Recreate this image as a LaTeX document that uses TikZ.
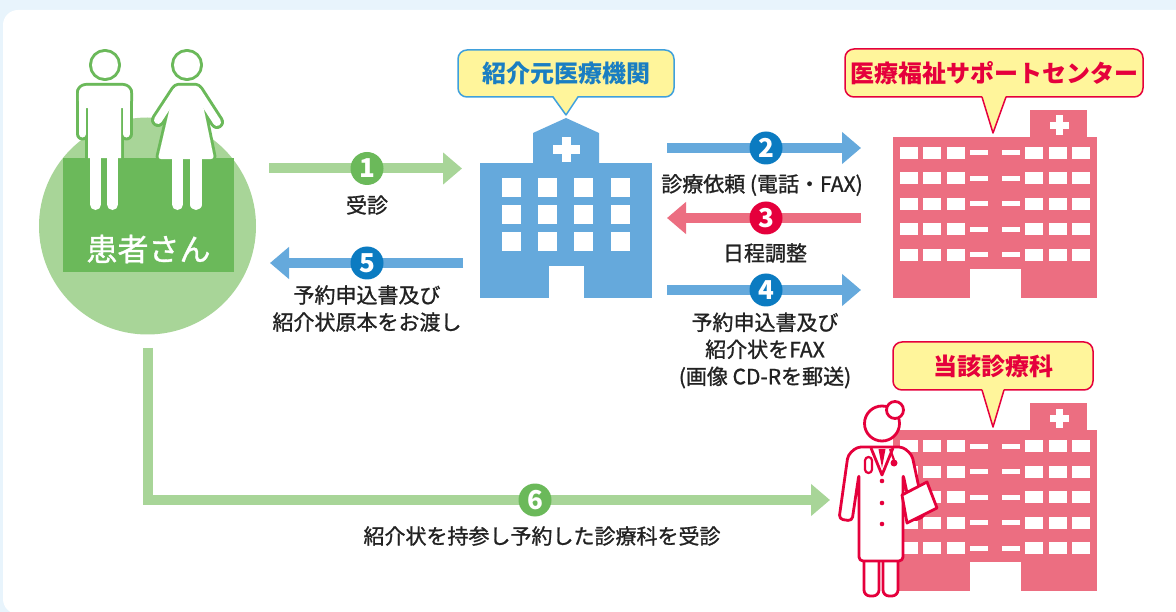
\documentclass[tikz,border=0pt]{standalone}
\usepackage{fontspec}
\setmainfont{Noto Sans CJK JP}
\newfontfamily\labelfont[FakeBold=1.1]{Noto Sans CJK JP}
\usetikzlibrary{arrows.meta}

\definecolor{bgblue}{HTML}{E8F4FC}
\definecolor{ltgreen}{HTML}{A8D598}
\definecolor{dkgreen}{HTML}{6BB95A}
\definecolor{arrblue}{HTML}{65A9DC}
\definecolor{numblue}{HTML}{0B7BC1}
\definecolor{rosepink}{HTML}{EC6E81}
\definecolor{crimson}{HTML}{E5003C}
\definecolor{calloutfill}{HTML}{FFF59B}
\definecolor{calloutblue}{HTML}{3FA0DC}
\definecolor{textblue}{HTML}{1A7EC2}
\definecolor{ink}{HTML}{222222}

% building of the medical centre / department (pink)
\newcommand\careBuilding{%
  \fill[rosepink] (893,137) rectangle (1097,298);
  \fill[rosepink] (1030,110) rectangle (1087,137);
  \fill[white] (1049.5,122) rectangle (1068.5,129);
  \fill[white] (1055.5,115.5) rectangle (1062.5,135);
  \foreach \row in {0,...,4}{%
    \foreach \col in {900,923,947,1025,1049,1072}{%
      \fill[white] (\col,147+25.5*\row) rectangle ++(17.5,12);}
    \foreach \col in {970,1002}{%
      \fill[white] (\col,150.5+25.5*\row) rectangle ++(17.5,5);}
  }
  \fill[white] (970,269) rectangle (1021,298);
}

\begin{document}
\begin{tikzpicture}[x=1pt,y=-1pt,
  arr/.style={line width=10pt,-{Triangle[width=31pt,length=19pt]}},
  num/.style={circle,fill=#1,minimum size=33pt,inner sep=0pt,text=white,
    font=\fontsize{26}{26}\selectfont\bfseries},
  lbl/.style={text=ink,align=center,inner sep=0pt,
    font=\labelfont\fontsize{21}{27}\selectfont},
  callout/.style={draw=#1,line width=1.5pt,fill=calloutfill,
    rounded corners=9pt,inner sep=0pt,font=\fontsize{24}{24}\selectfont\bfseries},
  fig/.style={line cap=round,line join=round},
]
\useasboundingbox (0,0) rectangle (1176,612);
\fill[bgblue] (0,0) rectangle (1176,612);
\fill[white,rounded corners=15pt] (3,10) rectangle (1195,614);

% ---------- patients ----------
\node[circle,fill=ltgreen,minimum size=217pt,inner sep=0pt] (pat) at (147.5,226) {};
\fill[dkgreen] (63,158) rectangle (234,272);
% outline pass (#1 = extra width, #2 = colour)
\newcommand\couple[2]{%
  \begin{scope}[fig,#2]
    % man
    \filldraw[line width=#1] (105,65) circle (13);
    \filldraw[line width=#1,rounded corners=7pt] (79,86) rectangle (130,108);
    \filldraw[line width=#1] (88,95) rectangle (121,158);
    \draw[line width=7pt+#1] (82.5,92) -- (82.5,134);
    \draw[line width=7pt+#1] (126.5,92) -- (126.5,134);
    \draw[line width=11pt+#1] (95.5,150) -- (95.5,204.5);
    \draw[line width=11pt+#1] (112.5,150) -- (112.5,204.5);
    % woman
    \filldraw[line width=#1] (187,65) circle (13);
    \filldraw[line width=#1,rounded corners=3pt] (175,86) -- (199,86) -- (214,159) -- (158,159) -- cycle;
    \draw[line width=8pt+#1] (177,91) -- (158,120);
    \draw[line width=8pt+#1] (197,91) -- (217,122);
    \draw[line width=11pt+#1] (177.5,150) -- (177.5,204.5);
    \draw[line width=11pt+#1] (196,150) -- (196,204.5);
  \end{scope}}
\couple{6pt}{dkgreen}
\couple{0.01pt}{white}
\node[text=white,font=\labelfont\fontsize{31}{31}\selectfont,inner sep=0pt] (patlbl) at (148.5,249) {患者さん};

% ---------- referring hospital (blue) ----------
\fill[arrblue] (480,163) rectangle (652,298);
\fill[arrblue] (533,164) -- (533,133) -- (566,118) -- (599,133) -- (599,164) -- cycle;
\fill[white] (552.5,145) rectangle (579.5,154);
\fill[white] (561.5,137) rectangle (570.5,162);
\foreach \row in {178,205,232}{%
  \foreach \col in {502,538,574,611}{%
    \fill[white] (\col,\row) rectangle ++(19,19);}}
\fill[white] (549,266) rectangle (584,298);

% ---------- support centre and department ----------
\careBuilding
\begin{scope}[shift={(0,293)}]
  \careBuilding
\end{scope}

% ---------- callouts ----------
\node[callout=calloutblue,minimum width=216pt,minimum height=47pt,text=textblue] (c1) at (566,73.5) {紹介元医療機関};
\fill[calloutfill] (553,95.5) -- (566,115) -- (578,95.5) -- cycle;
\draw[calloutblue,line width=1.5pt,line join=round] (553,97) -- (566,115) -- (578,97);

\node[callout=crimson,minimum width=298pt,minimum height=48pt,text=crimson] (c2) at (994,73) {医療福祉サポートセンター};
\fill[calloutfill] (982,95.5) -- (993,133) -- (1006,95.5) -- cycle;
\draw[crimson,line width=1.5pt,line join=round] (982,97) -- (993,133) -- (1006,97);

\node[callout=crimson,minimum width=200pt,minimum height=48pt,text=crimson] (c3) at (993,366) {当該診療科};
\fill[calloutfill] (982,388.5) -- (993,427) -- (1004,388.5) -- cycle;
\draw[crimson,line width=1.5pt,line join=round] (982,390) -- (993,427) -- (1004,390);

% ---------- doctor ----------
\begin{scope}[crimson,line width=2.8pt,line join=round]
  \filldraw[fill=white,rounded corners=6pt] (864,552) rectangle (879,596);
  \filldraw[fill=white,rounded corners=6pt] (883,552) rectangle (898,596);
  \filldraw[fill=white,rounded corners=4pt] (859,474) -- (852,521) -- (839,519) -- (848,455)
    -- (857,447) -- (903,447) -- (912,455) -- (925,516) -- (913,521) -- (903,474)
    -- (903,561) -- (859,561) -- cycle;
  \filldraw[fill=white] (882,423.5) circle (17.5);
  \filldraw[fill=white] (895,410) circle (8.5);
  \draw (871,448) -- (882,475) -- (893,448);
  \fill (878.5,449) -- (885.5,449) -- (882,468) -- cycle;
  \draw[line width=2.2pt,rounded corners=3.5pt] (865,457) rectangle (872,473);
  \draw[line width=2.2pt] (890,449) -- (894,460);
  \fill (894,463) circle (3.5);
  \foreach \yy in {481,503,524} \fill (882,\yy) circle (2.3);
  \filldraw[fill=white] (902,495) -- (927,482) -- (937,508) -- (907,523) -- cycle;
\end{scope}

% ---------- flow arrows ----------
\coordinate (p1s) at (269,168.5);  \coordinate (p1e) at (462,168.5);
\coordinate (p5s) at (463,263);    \coordinate (p5e) at (270,263);
\coordinate (p2s) at (667,148);    \coordinate (p2e) at (861,148);
\coordinate (p3s) at (861,218);    \coordinate (p3e) at (667,218);
\coordinate (p4s) at (667,290);    \coordinate (p4e) at (861,290);
\coordinate (p6s) at (148,348);    \coordinate (p6e) at (830,500);

\draw[arr,ltgreen] (p1s) -- (p1e);
\draw[arr,arrblue] (p5s) -- (p5e);
\draw[arr,arrblue] (p2s) -- (p2e);
\draw[arr,rosepink] (p3s) -- (p3e);
\draw[arr,arrblue] (p4s) -- (p4e);
\draw[arr,ltgreen,line join=miter] (p6s) |- (p6e);

\node[num=dkgreen] (n1) at (367,168.5) {1};
\node[num=numblue] (n2) at (766,148) {2};
\node[num=crimson] (n3) at (766,218) {3};
\node[num=numblue] (n4) at (766,290) {4};
\node[num=numblue] (n5) at (367,263) {5};
\node[num=dkgreen] (n6) at (535,500) {6};

% ---------- captions ----------
\node[lbl] (t1) at (367,205) {受診};
\node[lbl] (t5) at (367,308.5) {予約申込書及び\\紹介状原本をお渡し};
\node[lbl] (t2) at (762,185) {診療依頼 (電話・FAX)};
\node[lbl] (t3) at (765,253) {日程調整};
\node[lbl] (t4) at (765,350.5) {予約申込書及び\\紹介状をFAX\\(画像 CD-Rを郵送)};
\node[lbl] (t6) at (542,536) {紹介状を持参し予約した診療科を受診};
\end{tikzpicture}
\end{document}
